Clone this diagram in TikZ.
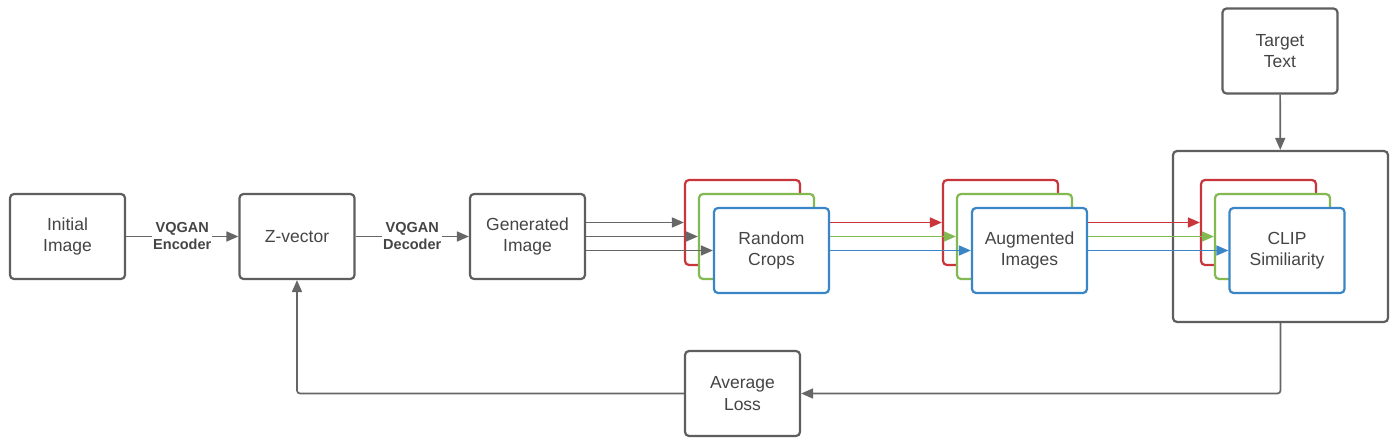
\documentclass[tikz,border=0pt]{standalone}
\usepackage{fontspec}
\setmainfont{Liberation Sans}
\usetikzlibrary{arrows.meta,calc}
\definecolor{bgray}{HTML}{5E5E5E}
\definecolor{agray}{HTML}{666666}
\definecolor{cred}{HTML}{C8363C}
\definecolor{cgreen}{HTML}{82B951}
\definecolor{cblue}{HTML}{3A85C6}
\definecolor{tgray}{HTML}{454545}
\begin{document}
\begin{tikzpicture}[x=1pt,y=-1pt,
  box/.style={draw=bgray,line width=2.2pt,rounded corners=4pt,fill=white,
    minimum width=115pt,minimum height=85pt,inner sep=0pt,align=center,
    text=tgray,font=\fontsize{17.5}{21.5}\selectfont},
  cbox/.style={box,draw=#1},
  conn/.style={draw=agray,line width=1.7pt,-{Triangle[length=12pt,width=10pt]}},
  cconn/.style={draw=#1,line width=1.7pt,-{Triangle[length=12pt,width=10pt]}},
  lbl/.style={fill=white,inner sep=1pt,align=center,text=tgray,
    font=\bfseries\fontsize{14.5}{17}\selectfont}
]
\useasboundingbox (0,0) rectangle (1400,444);
% outer CLIP container
\node[box,minimum width=215pt,minimum height=171pt] (clipo) at (1280.5,236.5) {};
% main nodes
\node[box] (init) at (67.5,236.5) {Initial\\Image};
\node[box] (zv) at (297,236.5) {Z-vector};
\node[box] (gen) at (527.5,236.5) {Generated\\Image};
\node[box] (tgt) at (1280,51) {Target\\Text};
\node[box] (avg) at (742.5,393.5) {Average\\Loss};
% random crops stack
\node[cbox=cred] (rcR) at (742.5,222.5) {};
\node[cbox=cgreen] (rcG) at (756.5,236.5) {};
\node[cbox=cblue] (rcB) at (771.5,250.5) {Random\\Crops};
% augmented stack
\node[cbox=cred] (agR) at (1000.5,222.5) {};
\node[cbox=cgreen] (agG) at (1014.5,236.5) {};
\node[cbox=cblue] (agB) at (1029.5,250.5) {Augmented\\Images};
% clip stack
\node[cbox=cred] (clR) at (1258.5,222.5) {};
\node[cbox=cgreen] (clG) at (1272.5,236.5) {};
\node[cbox=cblue] (clB) at (1287,250.5) {CLIP\\Similiarity};
% connectors
\draw[conn] (init) -- node[lbl] {VQGAN\\Encoder} (zv);
\draw[conn] (zv) -- node[lbl] {VQGAN\\Decoder} (gen);
\draw[conn] (gen.east |- rcR.west) -- (rcR.west);
\draw[conn] (gen.east |- rcG.west) -- (rcG.west);
\draw[conn] (gen.east |- rcB.west) -- (rcB.west);
\draw[cconn=cred] (rcB.east |- agR.west) -- (agR.west);
\draw[cconn=cgreen] (rcB.east |- agG.west) -- (agG.west);
\draw[cconn=cblue] (rcB.east |- agB.west) -- (agB.west);
\draw[cconn=cred] (agB.east |- clR.west) -- (clR.west);
\draw[cconn=cgreen] (agB.east |- clG.west) -- (clG.west);
\draw[cconn=cblue] (agB.east |- clB.west) -- (clB.west);
\draw[conn] (tgt) -- (clipo);
\draw[conn,rounded corners=3pt] (clipo.south) |- (avg.east);
\draw[conn,rounded corners=3pt] (avg.west) -| (zv.south);
\end{tikzpicture}
\end{document}
